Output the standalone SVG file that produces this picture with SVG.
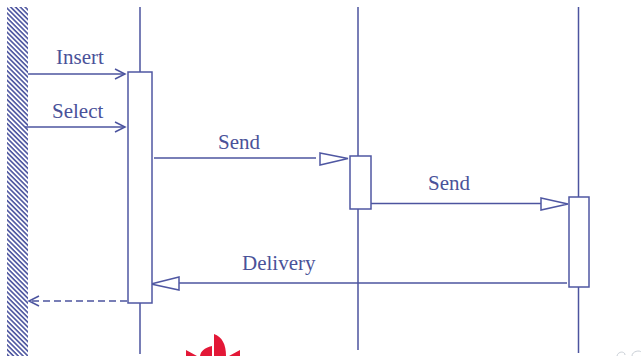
<svg xmlns="http://www.w3.org/2000/svg" width="641" height="356" viewBox="0 0 641 356">
<defs>
<style>
.l{stroke:#4c549f;stroke-width:1.5;fill:none}
.b{stroke:#4f57a2;stroke-width:1.5;fill:#fff}
.t{font-family:"Liberation Serif",serif;font-size:21px;fill:#4a5299}
</style>
<pattern id="h" width="3.4" height="3.4" patternUnits="userSpaceOnUse" patternTransform="rotate(45)">
<rect width="3.4" height="3.4" fill="#fff"/><rect width="3.4" height="1.6" fill="#4c549f"/>
</pattern>
<marker id="o" markerWidth="14" markerHeight="14" refX="12" refY="6" orient="auto" markerUnits="userSpaceOnUse"><path d="M2 1L12 6L2 11" fill="none" stroke="#4c549f" stroke-width="1.5"/></marker>
</defs>
<rect width="641" height="356" fill="#fff"/>
<rect id="wall" x="7" y="7" width="21" height="349" fill="url(#h)"/>
<g id="connectors">
<path class="l" d="M140 7V72M140 303V354M358 7V156M358 209V350M578.500 7V197M578.500 287V353"/>
<path class="l" d="M28 74H125" marker-end="url(#o)"/>
<path class="l" d="M25 127H125" marker-end="url(#o)"/>
<path class="l" d="M154 158H316"/>
<path class="b" d="M320 153L348 158.500L320 165Z"/>
<path class="l" d="M371 203.500H541"/>
<path class="b" d="M541 198L568 204L541 210Z"/>
<path class="l" d="M567 283H179"/>
<path class="b" d="M179 277L151 284L179 290Z"/>
<path class="l" d="M127 301H29" stroke-dasharray="7 4" marker-end="url(#o)"/>
</g>
<g id="a1"><rect class="b" x="128" y="72" width="24" height="231"/></g>
<g id="a2"><rect class="b" x="350" y="156" width="21" height="53"/></g>
<g id="a3"><rect class="b" x="569" y="197" width="20" height="90"/></g>
<text class="t" x="56" y="64">Insert</text>
<text class="t" x="52" y="118">Select</text>
<text class="t" x="218" y="149">Send</text>
<text class="t" x="428" y="190">Send</text>
<text class="t" x="242" y="270">Delivery</text>
<path d="M214 334C222 337 226 344 226 356H214ZM186 350L197 356H186ZM240 350V356H229ZM200 356C201 351 204 348 212 346V356Z" fill="#e31837"/>
<path d="M617 356C618 351 625 351 625 355M632 356C632 351 640 350 641 352" fill="none" stroke="#c9cfd6" stroke-width="1"/>
</svg>
